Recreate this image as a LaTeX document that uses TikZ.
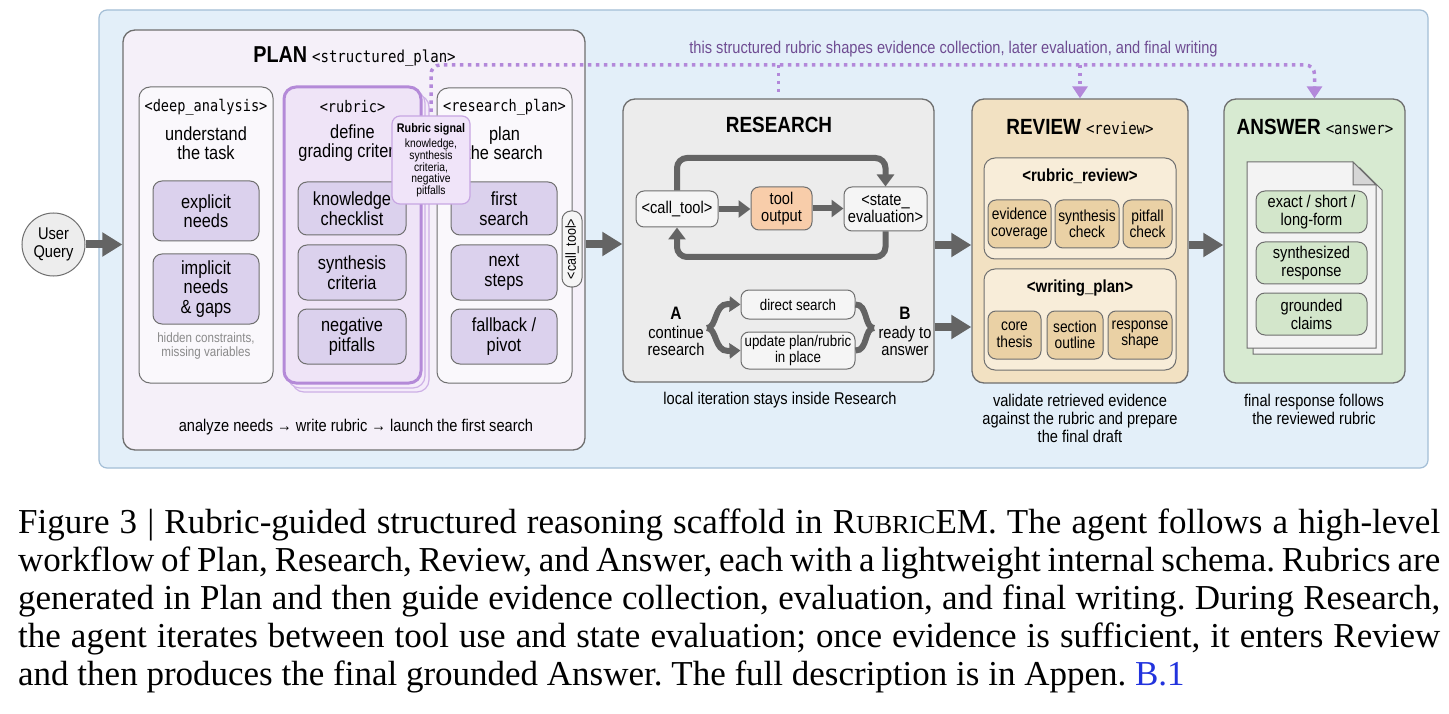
\documentclass[tikz,border=0pt]{standalone}
\usepackage{fontspec}
\setmainfont{Liberation Serif}
\setsansfont{Liberation Sans}[FakeStretch=0.86]
\setmonofont{DejaVu Sans Mono}[FakeStretch=0.85]
\newfontfamily\capfont{Liberation Serif}
\renewcommand*\familydefault{\sfdefault}
\usetikzlibrary{arrows.meta,shapes.misc,calc}
\newcommand\fz[2]{\fontsize{#1}{#2}\selectfont}
\newcommand\bx[7]{\node[#2, minimum width=#5pt-#3pt, minimum height=#6pt-#4pt, inner sep=0pt] (#1) at ({(#3+#5)/2},{(#4+#6)/2}) {#7};}
\definecolor{bgblue}{HTML}{E3EFF9}
\definecolor{bgedge}{HTML}{A3BED6}
\definecolor{planfill}{HTML}{F5F0F9}
\definecolor{colfill}{HTML}{FAF8FC}
\definecolor{lav}{HTML}{DBD1ED}
\definecolor{edgegray}{HTML}{6F6F6F}
\definecolor{rubfill}{HTML}{EFE4F7}
\definecolor{rubedge}{HTML}{B48AD8}
\definecolor{stackedge}{HTML}{CDB0E6}
\definecolor{stackfill}{HTML}{F4EBFA}
\definecolor{sigfill}{HTML}{F0E4F9}
\definecolor{sigedge}{HTML}{C7A6E2}
\definecolor{resfill}{HTML}{ECECEC}
\definecolor{toolfill}{HTML}{F5F5F5}
\definecolor{peach}{HTML}{F8CDAA}
\definecolor{revfill}{HTML}{F2E1C2}
\definecolor{revsub}{HTML}{F8EDD9}
\definecolor{tan}{HTML}{EAD1A5}
\definecolor{ansfill}{HTML}{D7EAD1}
\definecolor{docfill}{HTML}{F3F3F3}
\definecolor{docfold}{HTML}{D6D6D6}
\definecolor{greenbx}{HTML}{D3E6CB}
\definecolor{arrowgray}{HTML}{646464}
\definecolor{dotpurple}{HTML}{B388DA}
\definecolor{purpletext}{HTML}{6F4C92}
\definecolor{hintgray}{HTML}{8A8A8A}
\definecolor{uqfill}{HTML}{EDEDED}
\definecolor{linkblue}{HTML}{2233DD}
\tikzset{
  bgpanel/.style={fill=bgblue, draw=bgedge, line width=1.2pt, rounded corners=8pt},
  stagebox/.style={draw=edgegray, line width=1.3pt, rounded corners=12pt},
  colbox/.style={draw=edgegray, line width=1pt, rounded corners=11pt, fill=colfill},
  lavbox/.style={draw=edgegray, line width=1pt, rounded corners=9pt, fill=lav, align=center, font=\fz{19}{19.5}},
  stackbox/.style={draw=stackedge, line width=1.2pt, rounded corners=12pt, fill=stackfill},
  rubricbox/.style={draw=rubedge, line width=3pt, rounded corners=12pt, fill=rubfill},
  sigbox/.style={draw=sigedge, line width=1.2pt, rounded corners=8pt, fill=sigfill},
  monotag/.style={font=\ttfamily\fz{16}{17}},
  headtext/.style={font=\fz{19}{19.5}, align=center},
  pillbox/.style={draw=edgegray, fill=toolfill, line width=1pt, rounded corners=9pt, minimum width=76pt, minimum height=20pt, inner sep=0pt, font=\fz{14.5}{15}},
  toolbox/.style={draw=edgegray, line width=1pt, rounded corners=8pt, fill=toolfill, align=center, font=\fz{17}{17}},
  smallbox/.style={draw=edgegray, line width=1pt, rounded corners=8pt, fill=toolfill, align=center, font=\fz{15.5}{15.5}},
  subbox/.style={draw=edgegray, line width=1pt, rounded corners=11pt, fill=revsub},
  tanbox/.style={draw=edgegray, line width=1pt, rounded corners=8pt, fill=tan, align=center, font=\fz{16}{16.5}},
  greenbox/.style={draw=edgegray, line width=1pt, rounded corners=9pt, fill=greenbx, align=center, font=\fz{17}{18}},
  titlefont/.style={font=\fz{22}{24}\bfseries},
  notetext/.style={font=\fz{17}{18}, align=center},
  bigarrow/.style={draw=arrowgray, line width=8pt, -{Triangle[length=20pt,width=23pt]}},
  midarrow/.style={draw=arrowgray, line width=6pt, -{Triangle[length=12pt,width=17pt]}},
  looparrow/.style={draw=arrowgray, line width=6pt, rounded corners=10pt, -{Triangle[length=12pt,width=17pt]}},
  braceline/.style={draw=arrowgray, line width=6pt},
  dotline/.style={draw=dotpurple, line width=3.5pt, dash pattern=on 3.5pt off 4.5pt, rounded corners=9pt},
  dottip/.style={-{Triangle[length=12pt,width=15pt]}},
  capline/.style={anchor=base west, inner sep=0pt, font=\capfont\frenchspacing\fz{35}{38}},
}
\begin{document}
\begin{tikzpicture}[x=1pt,y=-1pt]
\useasboundingbox[fill=white] (0,0) rectangle (1449,714);
% background panel
\bx{panel}{bgpanel}{99}{10}{1428}{468}{}
% user query
\node[circle, draw=edgegray, fill=uqfill, line width=1pt, minimum size=63pt, inner sep=0pt, align=center, font=\fz{17}{18}] (uq) at (53.5,244.5) {User\\Query};
% PLAN
\bx{plan}{stagebox,fill=planfill}{123}{30}{585}{450}{}
\node[font=\fz{23}{25}\bfseries] (plantitle) at (354.5,57) {PLAN\hspace{5pt}{\mdseries\ttfamily\fz{16.5}{17}<structured\_plan>}};
% deep analysis
\bx{deep}{colbox}{139}{87}{273}{383}{}
\node[monotag] (deeptag) at (206,107) {<deep\_analysis>};
\node[headtext] (deephead) at (206,143) {understand\\the task};
\bx{explicit}{lavbox}{153}{181}{259}{241}{explicit\\needs}
\bx{implicit}{lavbox}{153}{254}{259}{324}{implicit\\needs\\\& gaps}
\node[font=\fz{13.5}{14.5}, text=hintgray, align=center] (hint) at (206,346) {hidden constraints,\\missing variables};
% rubric column
\bx{rstackb}{stackbox}{292}{95}{429}{392}{}
\bx{rstacka}{stackbox}{288}{91}{425}{388}{}
\bx{rubric}{rubricbox}{284}{87}{421}{383}{}
\node[monotag] (rubrictag) at (352.5,107) {<rubric>};
\node[headtext] (rubrichead) at (352.5,143) {define\\grading criteria};
\bx{know}{lavbox}{298}{182}{406}{235}{knowledge\\checklist}
\bx{synth}{lavbox}{298}{245}{406}{300}{synthesis\\criteria}
\bx{neg}{lavbox}{298}{309}{406}{364}{negative\\pitfalls}
% research plan column
\bx{rplan}{colbox}{437}{88}{572}{383}{}
\node[monotag] (rplantag) at (504.5,107) {<research\_plan>};
\node[headtext] (rplanhead) at (504.5,143) {plan\\the search};
\bx{first}{lavbox}{451}{182}{557}{235}{first\\search}
\bx{next}{lavbox}{451}{245}{557}{300}{next\\steps}
\bx{fallback}{lavbox}{451}{309}{557}{364}{fallback /\\pivot}
\node[notetext] (plannote) at (356,427) {analyze needs → write rubric → launch the first search};
\node[pillbox, rotate=90] (ctpill) at (572,249) {<call\_tool>};
% RESEARCH
\bx{research}{stagebox,fill=resfill}{623}{99}{934}{382}{}
\node[titlefont] (restitle) at (779,125) {RESEARCH};
\bx{calltool}{toolbox}{636}{191}{718}{227}{<call\_tool>}
\bx{toolout}{toolbox,fill=peach}{751}{187}{812}{230}{tool\\output}
\bx{stateval}{toolbox}{844}{187}{927}{231}{<state\_\\evaluation>}
\draw[midarrow] (calltool.east) -- (calltool.east -| toolout.west);
\draw[midarrow] (toolout.east) -- (toolout.east -| stateval.west);
\coordinate (lt) at (780,158);
\coordinate (lb) at (780,257);
\draw[looparrow] (calltool.north) |- (lt) -| (stateval.north);
\draw[looparrow] (stateval.south) |- (lb) -| (calltool.south);
\node[font=\fz{18}{18}\bfseries] (alabel) at (676,313) {A};
\node[font=\fz{17}{16.5}, align=center] (atext) at (676,341) {continue\\research};
\bx{dsearch}{smallbox}{741}{290}{855}{319}{direct search}
\bx{update}{smallbox}{741}{332}{855}{369}{update plan/rubric\\in place}
\coordinate (bl) at (707,328);
\coordinate (br) at (874,328);
\draw[braceline, -{Triangle[length=11pt,width=15pt]}] (bl) .. controls (717,328) and (714,304) .. (728,304) -- (dsearch.west);
\draw[braceline, -{Triangle[length=11pt,width=15pt]}] (bl) .. controls (717,328) and (714,351) .. (728,351) -- (update.west);
\draw[braceline] (dsearch.east) .. controls (868,304) and (864,328) .. (br);
\draw[braceline] (update.east) .. controls (868,351) and (864,328) .. (br);
\node[font=\fz{18}{18}\bfseries] (blabel) at (905,313) {B};
\node[font=\fz{17}{16.5}, align=center] (btext) at (905,341) {ready to\\answer};
\node[notetext] (resnote) at (780,400) {local iteration stays inside Research};
% REVIEW
\bx{review}{stagebox,fill=revfill}{972}{99}{1188}{383}{}
\node[titlefont] (revtitle) at (1080,127) {REVIEW\hspace{5pt}{\mdseries\ttfamily\fz{16.5}{17}<review>}};
\bx{rubrev}{subbox}{984}{158}{1176}{259}{}
\node[font=\fz{17.5}{18}\bfseries] (rubrevtitle) at (1080,176) {<rubric\_review>};
\bx{evid}{tanbox}{988}{200}{1051}{248}{evidence\\coverage}
\bx{synchk}{tanbox}{1055}{200}{1119}{248}{synthesis\\check}
\bx{pitchk}{tanbox}{1123}{200}{1172}{248}{pitfall\\check}
\bx{wplan}{subbox}{984}{269}{1176}{370}{}
\node[font=\fz{17.5}{18}\bfseries] (wplantitle) at (1080,288) {<writing\_plan>};
\bx{core}{tanbox}{988}{311}{1041}{359}{core\\thesis}
\bx{section}{tanbox}{1047}{311}{1103}{359}{section\\outline}
\bx{respshape}{tanbox}{1108}{311}{1172}{359}{response\\shape}
\node[notetext] (revnote) at (1080,418) {validate retrieved evidence\\against the rubric and prepare\\the final draft};
% ANSWER
\bx{answer}{stagebox,fill=ansfill}{1224}{99}{1405}{383}{}
\node[titlefont] (anstitle) at (1315,127) {ANSWER\hspace{5pt}{\mdseries\ttfamily\fz{16.5}{17}<answer>}};
\draw[draw=edgegray, fill=docfill, line width=1pt] (1253,168) -- (1360,168) -- (1382,190) -- (1382,354) -- (1253,354) -- cycle;
\draw[draw=edgegray, fill=docfill, line width=1pt] (1247,162) -- (1353,162) -- (1376,185) -- (1376,348) -- (1247,348) -- cycle;
\draw[draw=edgegray, fill=docfold, line width=1pt] (1353,162) -- (1353,185) -- (1376,185) -- cycle;
\bx{exact}{greenbox}{1256}{191}{1367}{233}{exact / short /\\long-form}
\bx{synresp}{greenbox}{1256}{242}{1367}{284}{synthesized\\response}
\bx{grounded}{greenbox}{1256}{293}{1367}{335}{grounded\\claims}
\node[notetext] (ansnote) at (1314,409) {final response follows\\the reviewed rubric};
% main arrows
\coordinate (a2) at (600,244);
\coordinate (a3) at (950,245);
\coordinate (a4) at (950,327);
\coordinate (a5) at (1205,245);
\draw[bigarrow] (uq.east) -- (uq.east -| plan.west);
\draw[bigarrow] (plan.east |- a2) -- (research.west |- a2);
\draw[bigarrow] (research.east |- a3) -- (review.west |- a3);
\draw[bigarrow] (research.east |- a4) -- (review.west |- a4);
\draw[bigarrow] (review.east |- a5) -- (answer.west |- a5);
% rubric signal dotted line
\coordinate (dl) at (900,65);
\draw[dotline, dottip] (431,112) |- (dl) -| (answer.north);
\draw[dotline, dottip] (review.north |- dl) -- (review.north);
\draw[dotline] (research.north |- dl) -- ([yshift=4pt]research.north);
\node[font=\fz{17}{18}, text=purpletext] (dlabel) at (953.5,49) {this structured rubric shapes evidence collection, later evaluation, and final writing};
% rubric signal box
\bx{rsig}{sigbox}{392}{116}{470}{204}{}
\node[font=\fz{12.5}{13}\bfseries] (rsigtitle) at (431,129) {Rubric signal};
\node[font=\fz{12}{10.8}, align=center] (rsigtext) at (431,168) {knowledge,\\synthesis\\criteria,\\negative\\pitfalls};
% caption
\node[capline] (cap1) at (18,533) {\makebox[1422pt][s]{Figure 3 | Rubric-guided structured reasoning scaffold in R{\fz{26}{26}UBRIC}EM. The agent follows a high-level}};
\node[capline] (cap2) at (18,571) {\makebox[1422pt][s]{workflow of Plan, Research, Review, and Answer, each with a lightweight internal schema. Rubrics are}};
\node[capline] (cap3) at (18,609) {\makebox[1422pt][s]{generated in Plan and then guide evidence collection, evaluation, and final writing. During Research,}};
\node[capline] (cap4) at (18,647) {\makebox[1422pt][s]{the agent iterates between tool use and state evaluation; once evidence is sufficient, it enters Review}};
\node[capline] (cap5) at (18,685) {and then produces the final grounded Answer. The full description is in Appen. \textcolor{linkblue}{B.1}};
\end{tikzpicture}
\end{document}
